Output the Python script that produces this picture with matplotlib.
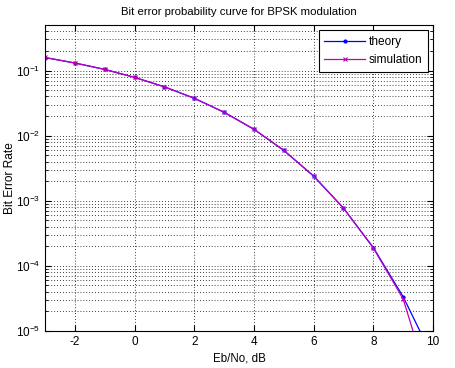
import matplotlib
matplotlib.use("Agg")
import matplotlib.pyplot as plt
from matplotlib.ticker import LogLocator, FixedLocator, NullFormatter

plt.rcParams['font.family'] = ['Liberation Sans', 'DejaVu Sans']
plt.rcParams['font.size'] = 8
plt.rcParams['axes.unicode_minus'] = False

ebno_db = [-3, -2, -1, 0, 1, 2, 3, 4, 5, 6, 7, 8, 9, 10]
ber_theory = [0.1584, 0.1306, 0.1040, 0.0786, 0.0563, 0.0375, 0.0229,
              0.0125, 0.00595, 0.00239, 7.73e-4, 1.91e-4, 3.36e-5, 3.87e-6]
ber_sim = [0.1586, 0.1304, 0.1042, 0.0785, 0.0561, 0.0376, 0.0228,
           0.0126, 0.00593, 0.00240, 7.70e-4, 1.88e-4, 3.1e-5, 1.0e-6]
x_ticks = [-2, 0, 2, 4, 6, 8, 10]

fig = plt.figure(figsize=(4.56, 3.68), dpi=100)
ax = fig.add_axes([0.0987, 0.1005, 0.8509, 0.8315])

ax.semilogy(ebno_db, ber_theory, 'b.-', lw=0.9, ms=4, label='theory')
ax.semilogy(ebno_db, ber_sim, 'mx-', lw=0.9, ms=3.5, mew=0.8, label='simulation')

ax.set_xlim(-3, 10)
ax.set_ylim(1e-5, 0.5)
ax.xaxis.set_major_locator(FixedLocator(x_ticks))
ax.yaxis.set_major_locator(LogLocator(base=10, numticks=10))
ax.yaxis.set_minor_locator(LogLocator(base=10, subs=range(2, 10), numticks=20))
ax.yaxis.set_minor_formatter(NullFormatter())

ax.grid(True, which='major', ls=(0, (1, 2.5)), color='k', lw=0.6)
ax.grid(True, which='minor', axis='y', ls=(0, (1, 2.5)), color='k', lw=0.6)

ax.tick_params(which='both', direction='in', top=True, right=True, labelsize=8.5)
ax.tick_params(which='major', length=4)
ax.tick_params(which='minor', length=2)
for s in ax.spines.values():
    s.set_linewidth(0.8)

ax.set_title('Bit error probability curve for BPSK modulation', fontsize=8.2, pad=7)
ax.set_xlabel('Eb/No, dB', fontsize=8.3, labelpad=3)
ax.set_ylabel('Bit Error Rate', fontsize=8.6)
ax.yaxis.set_label_coords(-0.075, 0.5)

leg = ax.legend(loc='upper right', fancybox=False, framealpha=1, edgecolor='k',
                fontsize=8.6, handlelength=3.4, borderaxespad=0.45, borderpad=0.45,
                labelspacing=0.55, handletextpad=0.3)
leg.get_frame().set_linewidth(0.8)

fig.savefig('out.png', dpi=100)
